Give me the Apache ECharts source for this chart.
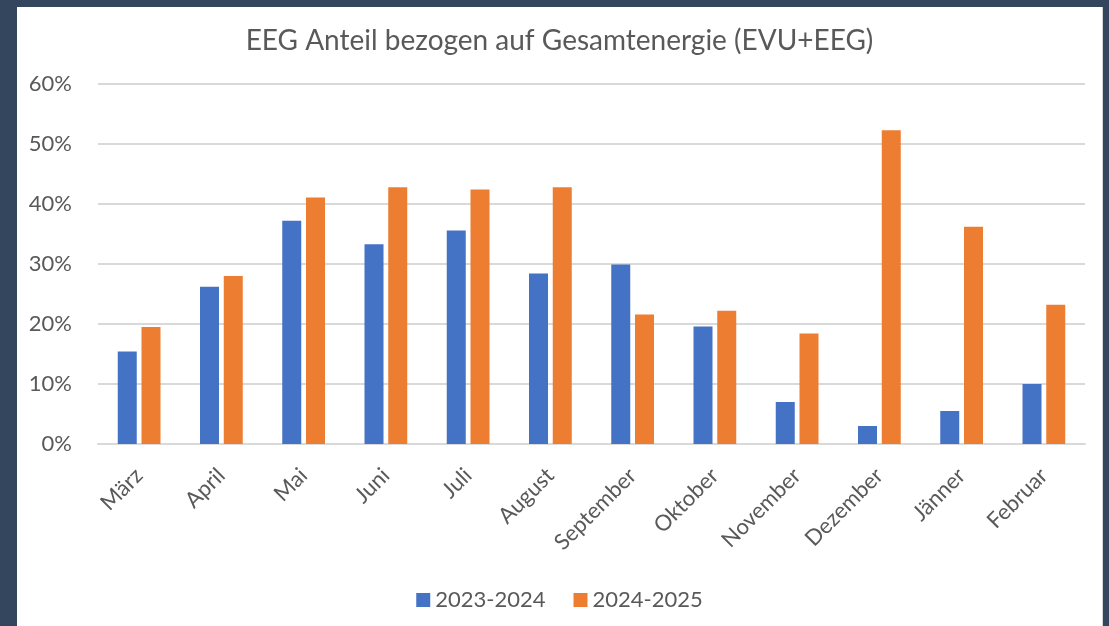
<!DOCTYPE html>
<html>
<head>
<meta charset="utf-8">
<script src="https://cdn.jsdelivr.net/npm/echarts@6/dist/echarts.min.js"></script>
<style>
  html, body { margin: 0; padding: 0; }
  body { width: 1109px; height: 626px; background: #34465e; position: relative; overflow: hidden; }
  #chart { position: absolute; left: 17px; top: 7px; width: 1085px; height: 619px; background: #fff; box-shadow: 1px 0 0 #d0d4da; }
</style>
</head>
<body>
<div id="chart"></div>
<script>
// Monate (März bis Februar)
const months = ['März', 'April', 'Mai', 'Juni', 'Juli', 'August', 'September', 'Oktober', 'November', 'Dezember', 'Jänner', 'Februar'];

// EEG-Anteil in Prozent
const share2324 = [15.4, 26.2, 37.2, 33.3, 35.6, 28.4, 29.9, 19.6, 7.0, 3.0, 5.5, 10.0];
const share2425 = [19.5, 28.0, 41.1, 42.8, 42.4, 42.8, 21.6, 22.2, 18.4, 52.3, 36.2, 23.2];

const seriesNames = ['2023-2024', '2024-2025'];

const textColor = '#595959';
const fontFamily = 'Lato, "Open Sans", sans-serif';

const chart = echarts.init(document.getElementById('chart'));

chart.setOption({
  animation: false,
  textStyle: { fontFamily: fontFamily },
  title: {
    text: 'EEG Anteil bezogen auf Gesamtenergie (EVU+EEG)',
    left: 'center',
    top: 15,
    textStyle: { color: textColor, fontSize: 28, fontWeight: 'normal', fontFamily: fontFamily },
  },
  legend: {
    bottom: 10,
    left: 'center',
    icon: 'rect',
    itemWidth: 14,
    itemHeight: 14,
    itemGap: 28,
    textStyle: { color: textColor, fontSize: 22, fontFamily: fontFamily },
    data: seriesNames,
  },
  grid: {
    left: 81,
    right: 17,
    top: 77,
    bottom: 182,
    containLabel: false,
  },
  xAxis: {
    type: 'category',
    data: months,
    axisLine: { lineStyle: { color: '#d9d9d9', width: 2 } },
    axisTick: { show: false },
    axisLabel: {
      rotate: 45,
      color: textColor,
      fontSize: 22,
      margin: 28,
      interval: 0,
      fontFamily: fontFamily,
    },
  },
  yAxis: {
    type: 'value',
    min: 0,
    max: 60,
    interval: 10,
    axisLine: { show: false },
    axisTick: { show: false },
    axisLabel: {
      color: textColor,
      fontSize: 22,
      margin: 26,
      formatter: '{value}%',
      fontFamily: fontFamily,
    },
    splitLine: { lineStyle: { color: '#d9d9d9', width: 2 } },
  },
  series: [
    {
      name: seriesNames[0],
      type: 'bar',
      data: share2324,
      barWidth: 19,
      barGap: '25%',
      itemStyle: { color: '#4472c4' },
    },
    {
      name: seriesNames[1],
      type: 'bar',
      data: share2425,
      barWidth: 19,
      itemStyle: { color: '#ed7d31' },
    },
  ],
});
</script>
</body>
</html>
